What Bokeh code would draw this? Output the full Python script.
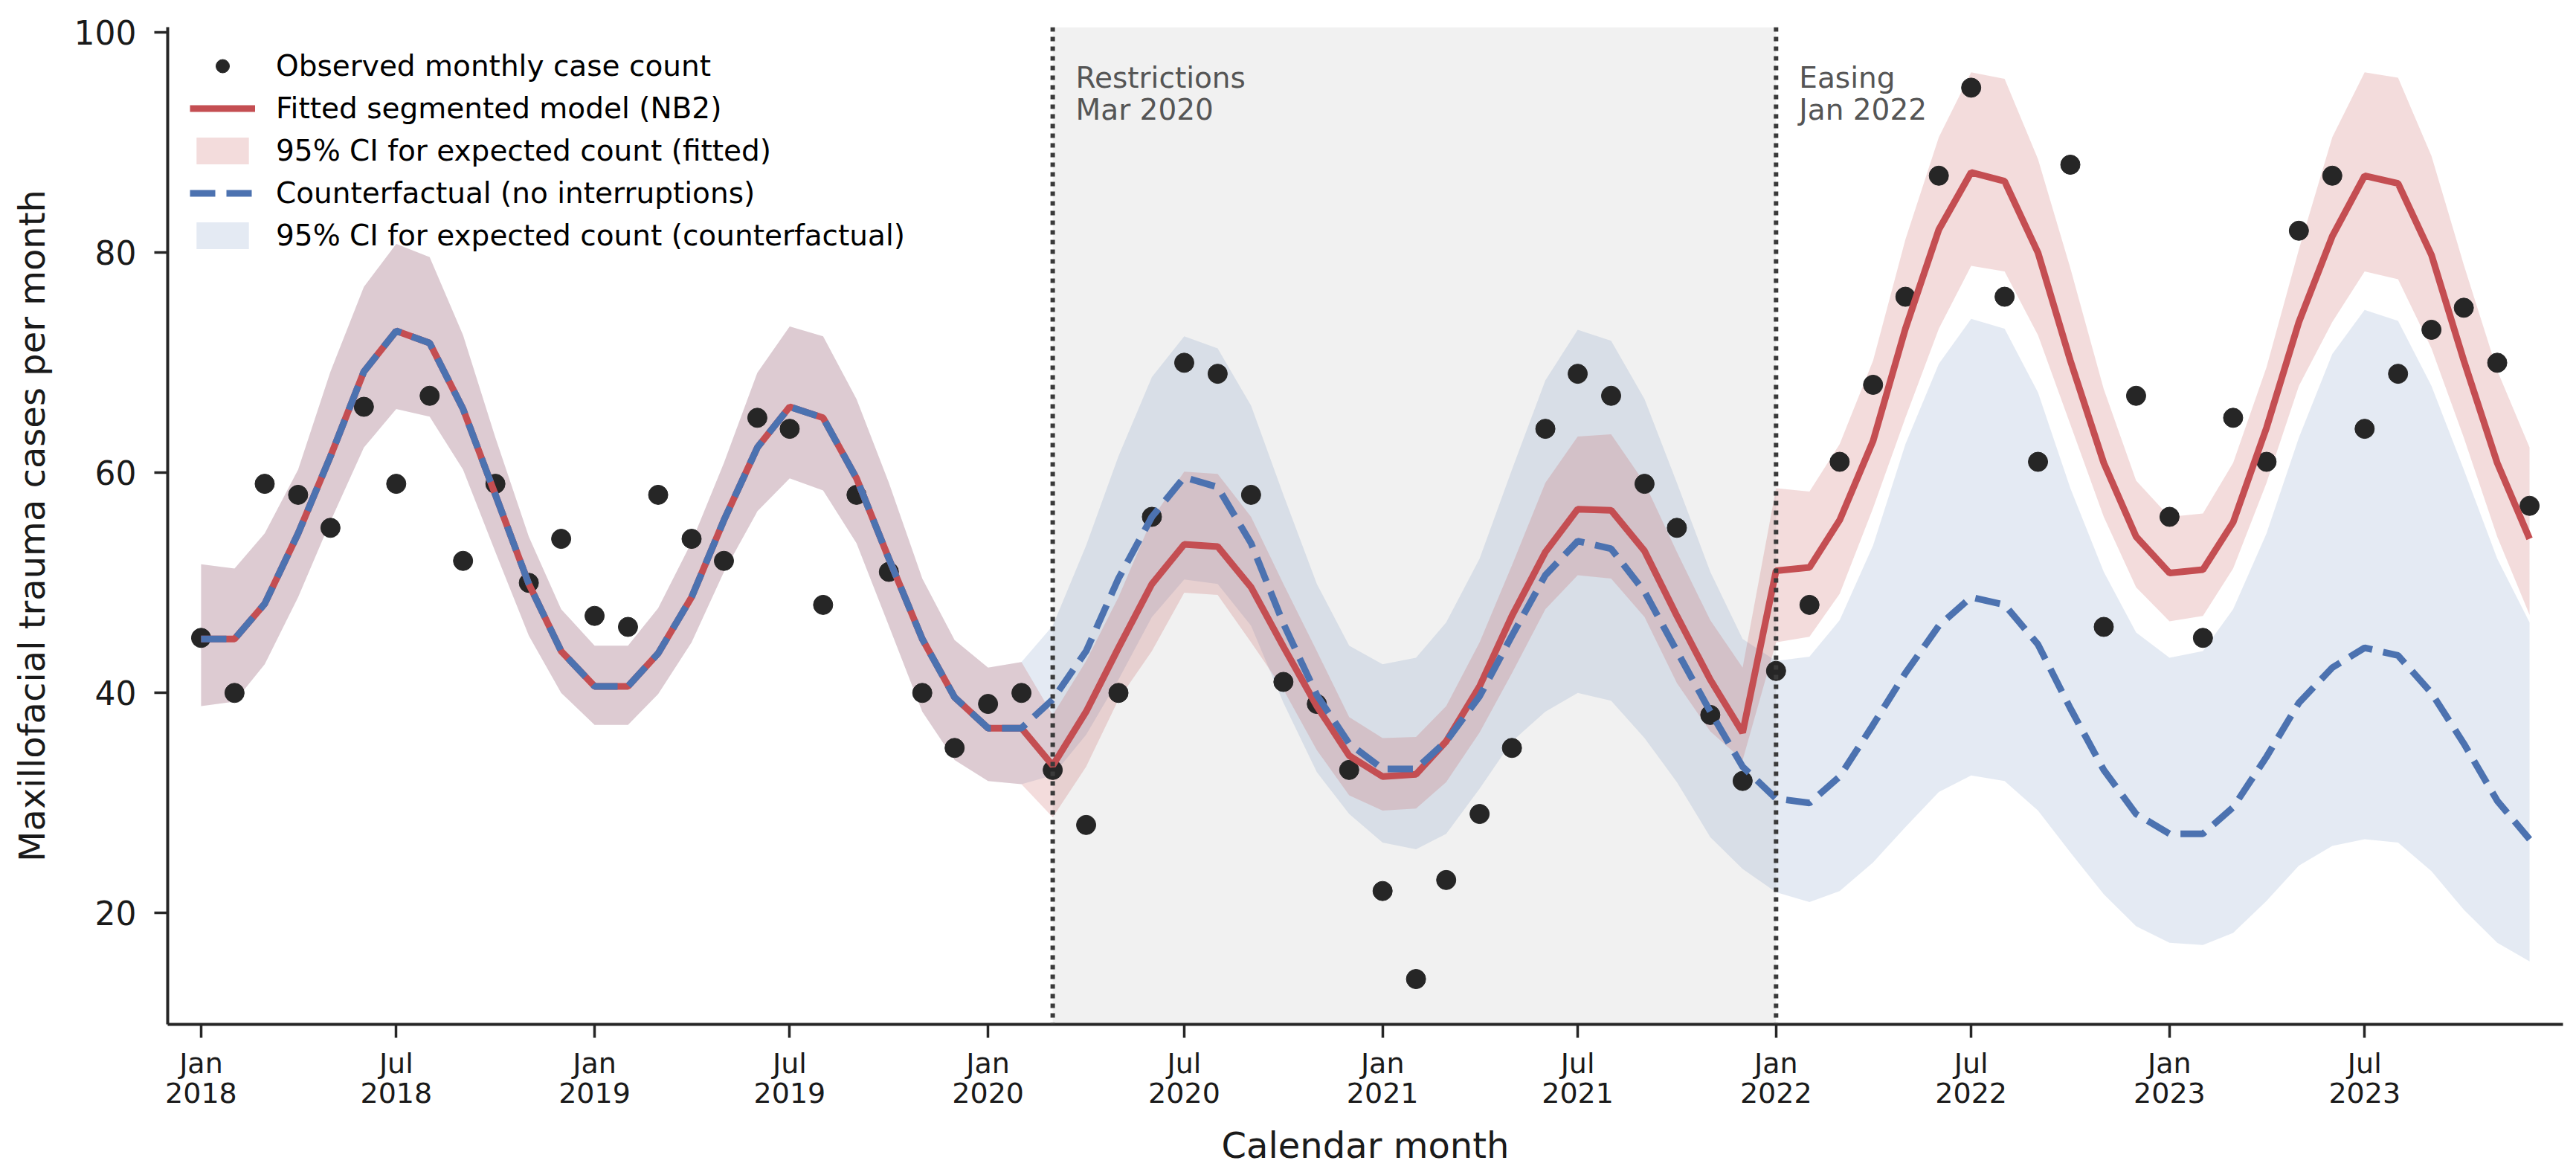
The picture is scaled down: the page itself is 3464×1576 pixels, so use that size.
import pandas as pd
from bokeh.plotting import figure
from bokeh.models import (ColumnDataSource, FixedTicker, Legend, LegendItem, Span,
                          BoxAnnotation, Label, Range1d)
from bokeh.embed import file_html
from bokeh.resources import INLINE

# ---------------- data ----------------
months = pd.date_range("2018-01-01", "2023-12-01", freq="MS")

observed = [45, 40, 59, 58, 55, 66, 59, 67, 52, 59, 50, 54,
            47, 46, 58, 54, 52, 65, 64, 48, 58, 51, 40, 35,
            39, 40, 33, 28, 40, 56, 70, 69, 58, 41, 39, 33,
            22, 14, 23, 29, 35, 64, 69, 67, 59, 55, 38, 32,
            42, 48, 61, 68, 76, 87, 95, 76, 61, 88, 46, 67,
            56, 45, 65, 61, 82, 87, 64, 69, 73, 75, 70, 57]

fitted = [44.9, 44.9, 48.1, 54.5, 61.5, 69.2, 72.9, 71.8, 65.8, 58.0, 49.9, 43.8,
          40.6, 40.6, 43.6, 48.7, 55.7, 62.3, 66.0, 65.0, 59.5, 52.2, 44.9, 39.6,
          36.8, 36.8, 33.4, 38.3, 44.1, 49.9, 53.5, 53.3, 49.6, 44.2, 38.8, 34.3,
          32.4, 32.6, 35.6, 40.6, 47.0, 52.8, 56.7, 56.6, 52.9, 47.0, 41.2, 36.4,
          51.1, 51.4, 55.7, 62.9, 73.1, 82.1, 87.3, 86.5, 80.0, 70.2, 60.9, 54.2,
          50.9, 51.2, 55.5, 64.1, 73.7, 81.5, 87.0, 86.3, 79.8, 70.2, 60.9, 54.0]

fitted_hi = [51.7, 51.3, 54.5, 60.3, 69.2, 76.9, 80.8, 79.6, 72.5, 63.2, 54.2, 47.6,
             44.3, 44.3, 47.7, 53.7, 60.9, 69.1, 73.3, 72.4, 66.7, 59.1, 50.4, 44.8,
             42.3, 42.8, 38.0, 42.9, 48.7, 55.8, 60.1, 59.9, 56.0, 49.9, 43.8, 37.8,
             35.9, 36.0, 38.8, 44.6, 51.6, 59.1, 63.3, 63.5, 59.1, 52.8, 46.6, 42.3,
             58.6, 58.3, 62.6, 70.2, 81.2, 90.5, 96.4, 95.8, 88.5, 78.6, 67.6, 59.3,
             56.0, 56.3, 60.9, 69.6, 80.3, 90.5, 96.4, 95.9, 88.8, 78.9, 69.3, 62.3]

fitted_lo = [38.8, 39.2, 42.6, 48.7, 55.6, 62.3, 65.8, 65.1, 60.3, 52.8, 45.2, 40.0,
             37.1, 37.1, 39.9, 44.6, 51.0, 56.5, 59.5, 58.4, 53.6, 46.1, 38.3, 33.9,
             32.0, 31.7, 28.7, 33.3, 39.4, 43.8, 49.1, 48.9, 44.6, 40.3, 34.8, 30.7,
             29.3, 29.5, 31.9, 36.4, 41.8, 47.6, 50.7, 50.4, 46.9, 40.9, 36.5, 33.9,
             44.6, 45.1, 49.0, 56.8, 65.0, 73.1, 78.8, 78.3, 72.5, 64.4, 56.0, 49.6,
             46.5, 47.0, 51.3, 59.1, 67.9, 73.7, 78.3, 77.6, 71.3, 63.2, 54.2, 47.1]

counterfactual = [44.9, 44.9, 48.1, 54.5, 61.5, 69.2, 72.9, 71.8, 65.8, 58.0, 49.9, 43.8,
                  40.6, 40.6, 43.6, 48.7, 55.7, 62.3, 66.0, 65.0, 59.5, 52.2, 44.9, 39.6,
                  36.8, 36.8, 39.4, 43.8, 50.4, 56.0, 59.6, 58.7, 53.6, 46.3, 39.8, 35.4,
                  33.1, 33.1, 35.6, 39.7, 45.2, 50.7, 53.8, 53.1, 49.2, 43.8, 38.3, 33.3,
                  30.4, 30.0, 32.4, 37.1, 41.8, 46.1, 48.7, 48.0, 44.4, 38.6, 33.0, 29.0,
                  27.2, 27.2, 29.6, 34.2, 39.1, 42.3, 44.1, 43.4, 40.0, 35.4, 30.2, 26.7]

cf_hi = [51.7, 51.3, 54.5, 60.3, 69.2, 76.9, 80.8, 79.6, 72.5, 63.2, 54.2, 47.6,
         44.3, 44.3, 47.7, 53.7, 60.9, 69.1, 73.3, 72.4, 66.7, 59.1, 50.4, 44.8,
         42.3, 42.8, 46.1, 53.4, 61.5, 68.7, 72.4, 71.3, 66.1, 58.0, 49.9, 44.3,
         42.6, 43.2, 46.4, 52.2, 60.3, 68.4, 73.0, 72.0, 66.7, 59.1, 51.0, 44.9,
         42.9, 43.3, 46.6, 53.4, 62.6, 69.9, 74.0, 73.1, 67.3, 58.6, 51.0, 45.5,
         43.2, 43.8, 47.6, 54.5, 63.2, 70.8, 74.8, 73.8, 67.9, 60.3, 52.2, 46.4]

cf_lo = [38.8, 39.2, 42.6, 48.7, 55.6, 62.3, 65.8, 65.1, 60.3, 52.8, 45.2, 40.0,
         37.1, 37.1, 39.9, 44.6, 51.0, 56.5, 59.5, 58.4, 53.6, 46.1, 38.3, 33.9,
         32.0, 31.7, 32.5, 36.2, 41.2, 46.9, 50.3, 49.9, 46.1, 39.1, 32.8, 29.0,
         26.4, 25.8, 27.2, 31.3, 35.6, 38.3, 40.0, 39.3, 35.9, 31.9, 26.9, 24.0,
         21.9, 21.0, 22.0, 24.6, 27.8, 31.0, 32.5, 32.0, 29.3, 25.5, 21.7, 18.8,
         17.3, 17.1, 18.2, 21.1, 24.3, 26.1, 26.7, 26.4, 23.8, 20.3, 17.3, 15.6]

tick_dates = pd.date_range("2018-01-01", "2023-07-01", freq="6MS")
tick_labels = [d.strftime("%b") + "\n" + d.strftime("%Y") for d in tick_dates]
y_ticks = [20, 40, 60, 80, 100]

restrictions_date = "2020-03-01"
easing_date = "2022-01-01"
restrictions_text = ["Restrictions", "Mar 2020"]
easing_text = ["Easing", "Jan 2022"]

# ---------------- helpers ----------------
origin = pd.Timestamp("2018-01-01")


def day(ts):
    return float((pd.Timestamp(ts) - origin).days)


x = [day(d) for d in months]
tick_x = [int(day(d)) for d in tick_dates]

src = ColumnDataSource(dict(x=x, obs=observed, fit=fitted, fit_lo=fitted_lo, fit_hi=fitted_hi,
                            cf=counterfactual, cf_lo=cf_lo, cf_hi=cf_hi))

RED = "#C44E52"
BLUE = "#4C72B0"
FONT = "DejaVu Sans"
INK = "#1a1a1a"

p = figure(width=3464, height=1576, output_backend="svg", toolbar_location=None,
           x_range=Range1d(day("2017-12-01"), day("2024-01-01")),
           y_range=Range1d(9.88, 100.5),
           min_border_left=225, min_border_right=18, min_border_top=36, min_border_bottom=199)
p.outline_line_color = None
p.grid.visible = False
p.background_fill_color = "white"
p.border_fill_color = "white"

# interruption period shading
p.add_layout(BoxAnnotation(left=day(restrictions_date), right=day(easing_date),
                           fill_color="#f1f1f1", fill_alpha=1.0, line_color=None,
                           level="underlay"))

r_cf_band = p.varea(x="x", y1="cf_lo", y2="cf_hi", source=src, fill_color=BLUE, fill_alpha=0.15)
r_fit_band = p.varea(x="x", y1="fit_lo", y2="fit_hi", source=src, fill_color=RED, fill_alpha=0.2)
r_pts = p.scatter(x="x", y="obs", source=src, size=26, fill_color="#262626", line_color="#262626")
r_fit = p.line(x="x", y="fit", source=src, line_color=RED, line_width=9)
r_cf = p.line(x="x", y="cf", source=src, line_color=BLUE, line_width=9, line_dash="34 15")

for d in (restrictions_date, easing_date):
    p.add_layout(Span(location=day(d), dimension="height", line_color="#3a3a3a",
                      line_width=6, line_dash="6 7"))

for d, lines in ((restrictions_date, restrictions_text), (easing_date, easing_text)):
    for k, t in enumerate(lines):
        p.add_layout(Label(x=day(d), y=100.5, x_offset=31, y_offset=-68 - 43 * k, text=t,
                           text_font=FONT, text_font_size="39px", text_color="#555555",
                           text_align="left", text_baseline="alphabetic"))

# axes
for ax in (p.xaxis[0], p.yaxis[0]):
    ax.axis_line_color = "#262626"
    ax.axis_line_width = 4
    ax.major_tick_line_color = "#262626"
    ax.major_tick_line_width = 3.5
    ax.major_tick_in = 0
    ax.major_tick_out = 18
    ax.minor_tick_line_color = None
    ax.major_label_text_font = FONT
    ax.major_label_text_color = INK
    ax.axis_label_text_font = FONT
    ax.axis_label_text_font_style = "normal"
    ax.axis_label_text_font_size = "48px"
    ax.axis_label_text_color = INK

p.xaxis.ticker = FixedTicker(ticks=tick_x)
p.xaxis.major_label_overrides = {t: l for t, l in zip(tick_x, tick_labels)}
p.xaxis.major_label_text_font_size = "38px"
p.xaxis.major_label_text_line_height = 0.93
p.xaxis.major_label_standoff = 12
p.xaxis.axis_label = "Calendar month"
p.xaxis.axis_label_standoff = 17

p.yaxis.ticker = FixedTicker(ticks=y_ticks)
p.yaxis.major_label_text_font_size = "44px"
p.yaxis.major_label_standoff = 24
p.yaxis.axis_label = "Maxillofacial trauma cases per month"
p.yaxis.axis_label_standoff = 26

legend = Legend(items=[
    LegendItem(label="Observed monthly case count", renderers=[r_pts]),
    LegendItem(label="Fitted segmented model (NB2)", renderers=[r_fit]),
    LegendItem(label="95% CI for expected count (fitted)", renderers=[r_fit_band]),
    LegendItem(label="Counterfactual (no interruptions)", renderers=[r_cf]),
    LegendItem(label="95% CI for expected count (counterfactual)", renderers=[r_cf_band]),
], location="top_left", border_line_color=None, background_fill_alpha=0,
    label_text_font=FONT, label_text_font_size="39px", label_text_color="#000000",
    glyph_width=88, glyph_height=45, label_height=45, spacing=12, padding=0, margin=30,
    label_standoff=28)
p.add_layout(legend)

open("out.html", "w").write(file_html(p, INLINE, title="Maxillofacial trauma ITS"))
